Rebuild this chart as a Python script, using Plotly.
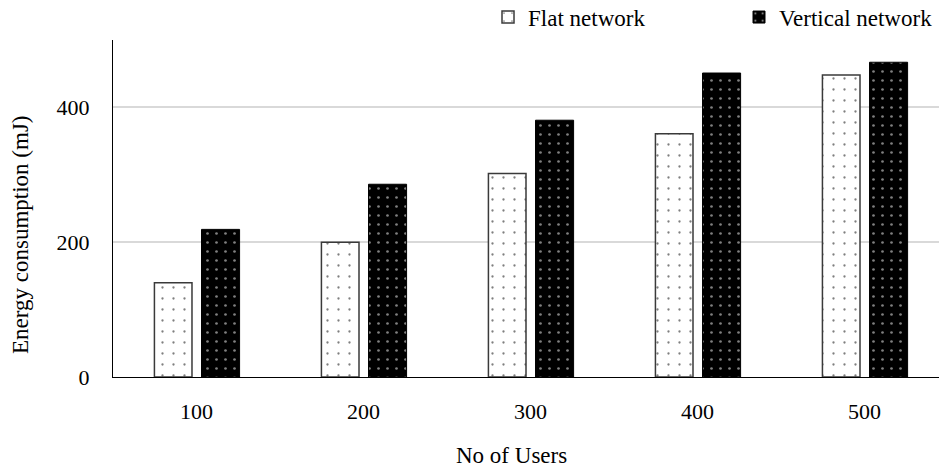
import plotly.graph_objects as go

# Number of users per scenario and the measured energy use (mJ)
users = ["100", "200", "300", "400", "500"]
flat_energy = [140, 200, 302, 361, 448]
vertical_energy = [219, 286, 381, 451, 467]

FONT = "Liberation Serif, Times New Roman, serif"

fig = go.Figure()

fig.add_trace(go.Bar(
    name="Flat network",
    x=users,
    y=flat_energy,
    width=0.225,
    offset=-0.252,
    marker=dict(
        color="white",
        line=dict(color="#3a3a3a", width=1.5),
        pattern=dict(shape=".", fgcolor="black", bgcolor="white",
                     size=11, solidity=0.035, fillmode="overlay"),
    ),
))

fig.add_trace(go.Bar(
    name="Vertical network",
    x=users,
    y=vertical_energy,
    width=0.228,
    offset=0.03,
    marker=dict(
        color="black",
        line=dict(color="black", width=1),
        pattern=dict(shape=".", fgcolor="white", bgcolor="black",
                     size=9, solidity=0.07, fillmode="overlay"),
    ),
))

fig.update_layout(
    width=939,
    height=472,
    margin=dict(l=113, r=0, t=40, b=95, autoexpand=False),
    plot_bgcolor="white",
    paper_bgcolor="white",
    font=dict(family=FONT, size=23, color="black"),
    barmode="overlay",
    showlegend=True,
    legend=dict(
        orientation="h",
        x=0.454,
        xanchor="left",
        y=1.068,
        yanchor="middle",
        font=dict(family=FONT, size=23, color="black"),
        entrywidth=206,
        bgcolor="rgba(0,0,0,0)",
    ),
)

fig.update_xaxes(
    type="category",
    range=[-0.5, 4.446],
    showline=True,
    linecolor="black",
    linewidth=1.2,
    showgrid=False,
    ticks="",
    ticklabelstandoff=14,
    tickfont=dict(family=FONT, size=22),
)

fig.update_yaxes(
    range=[0, 500],
    tickvals=[0, 200, 400],
    showline=True,
    linecolor="black",
    linewidth=1.2,
    showgrid=True,
    gridcolor="#d9d9d9",
    gridwidth=1.5,
    zeroline=False,
    ticks="",
    ticklabelstandoff=18,
    tickfont=dict(family=FONT, size=22),
)

# Axis titles
fig.add_annotation(
    text="No of Users", xref="paper", yref="paper",
    x=(511 - 113) / 826, y=-(455 - 377) / 337,
    showarrow=False, xanchor="center", yanchor="middle",
    font=dict(family=FONT, size=23, color="black"),
)
fig.add_annotation(
    text="Energy consumption (mJ)", xref="paper", yref="paper",
    x=-(113 - 20) / 826, y=(377 - 235) / 337,
    showarrow=False, xanchor="center", yanchor="middle", textangle=-90,
    font=dict(family=FONT, size=23, color="black"),
)

fig.write_html("out.html")
